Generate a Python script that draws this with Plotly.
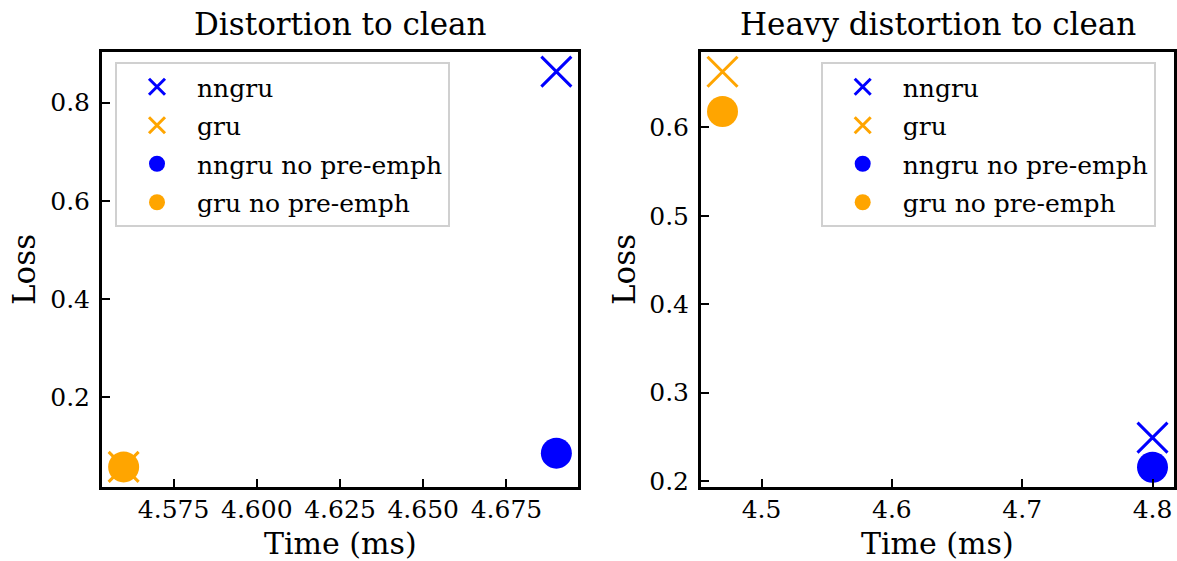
import plotly.graph_objects as go

# ---- data ----
series_names = ["nngru", "gru", "nngru no pre-emph", "gru no pre-emph"]
series_colors = ["#0000ff", "#ffa500", "#0000ff", "#ffa500"]
series_symbols = ["x-thin", "x-thin", "circle", "circle"]

# Distortion to clean
time_dist = [4.690, 4.560, 4.690, 4.560]
loss_dist = [0.863, 0.058, 0.086, 0.058]

# Heavy distortion to clean
time_heavy = [4.800, 4.470, 4.800, 4.470]
loss_heavy = [0.249, 0.663, 0.2155, 0.618]

titles = ["Distortion to clean", "Heavy distortion to clean"]
x_label = "Time (ms)"
y_label = "Loss"

left_xticks = [4.575, 4.600, 4.625, 4.650, 4.675]
left_yticks = [0.2, 0.4, 0.6, 0.8]
right_xticks = [4.5, 4.6, 4.7, 4.8]
right_yticks = [0.2, 0.3, 0.4, 0.5, 0.6]

# ---- layout geometry (pixels) ----
W, H = 1177, 561
ML, MR, MT, MB = 102, 3, 52, 74
PW, PH = W - ML - MR, H - MT - MB


def px(x):
    return (x - ML) / PW


def py(y):
    return (H - MB - y) / PH


FONT = "DejaVu Serif"

fig = go.Figure()

panels = [
    (time_dist, loss_dist, "x", "y", "legend"),
    (time_heavy, loss_heavy, "x2", "y2", "legend2"),
]
for p, (xs, ys, xa, ya, lg) in enumerate(panels):
    for i, name in enumerate(series_names):
        sym = series_symbols[i]
        if sym == "x-thin":
            marker = dict(symbol=sym, size=30, color=series_colors[i],
                          line=dict(width=3, color=series_colors[i]))
        else:
            marker = dict(symbol=sym, size=31, color=series_colors[i],
                          line=dict(width=0))
        fig.add_trace(go.Scatter(
            x=[xs[i]], y=[ys[i]], mode="markers", name=name,
            marker=marker, xaxis=xa, yaxis=ya, legend=lg,
            legendgroup=f"p{p}s{i}",
        ))

axis_common = dict(
    showgrid=False, zeroline=False, showline=True, mirror=True,
    linecolor="black", linewidth=3, ticks="inside", ticklen=8,
    tickwidth=2, tickcolor="black",
    tickfont=dict(family=FONT, size=25, color="black"),
    automargin=False,
)

legend_common = dict(
    yanchor="top", xanchor="left",
    font=dict(family=FONT, size=25, color="black"),
    bgcolor="rgba(255,255,255,0.8)", bordercolor="#d0d0d0",
    borderwidth=2, itemwidth=70, tracegroupgap=3,
)

fig.update_layout(
    width=W, height=H,
    margin=dict(l=ML, r=MR, t=MT, b=MB),
    plot_bgcolor="white", paper_bgcolor="white",
    font=dict(family=FONT, color="black"),
    xaxis=dict(domain=[0, px(578)], range=[4.5535, 4.6965],
               tickvals=left_xticks, ticktext=[f"{v:.3f}" for v in left_xticks],
               anchor="y", ticklabelstandoff=-2, **axis_common),
    yaxis=dict(domain=[0, 1], range=[0.0171, 0.9029],
               tickvals=left_yticks, ticktext=[f"{v:.1f}" for v in left_yticks],
               anchor="x", ticklabelstandoff=4, **axis_common),
    xaxis2=dict(domain=[px(701), 1], range=[4.4535, 4.8165],
                tickvals=right_xticks, ticktext=[f"{v:.1f}" for v in right_xticks],
                anchor="y2", ticklabelstandoff=-2, **axis_common),
    yaxis2=dict(domain=[0, 1], range=[0.1932, 0.6854],
                tickvals=right_yticks, ticktext=[f"{v:.1f}" for v in right_yticks],
                anchor="x2", ticklabelstandoff=4, **axis_common),
    legend=dict(x=px(115), y=py(62), **legend_common),
    legend2=dict(x=px(820.7), y=py(62), **legend_common),
    showlegend=True,
)

annos = []
for title, cx in [(titles[0], 340), (titles[1], 937.5)]:
    annos.append(dict(text=title, x=px(cx), y=py(24), xref="paper", yref="paper",
                      xanchor="center", yanchor="middle", showarrow=False,
                      font=dict(family=FONT, size=31, color="black")))
for cx in [340, 937.5]:
    annos.append(dict(text=x_label, x=px(cx), y=py(543), xref="paper", yref="paper",
                      xanchor="center", yanchor="middle", showarrow=False,
                      font=dict(family=FONT, size=30, color="black")))
for cx in [24, 624]:
    annos.append(dict(text=y_label, x=px(cx), y=py(270), xref="paper", yref="paper",
                      xanchor="center", yanchor="middle", showarrow=False,
                      textangle=-90,
                      font=dict(family=FONT, size=31, color="black")))
fig.update_layout(annotations=annos)

fig.write_html(
    "out.html",
    config={"displayModeBar": False},
    post_script="document.body.style.margin='0';document.body.style.overflow='hidden';",
)
